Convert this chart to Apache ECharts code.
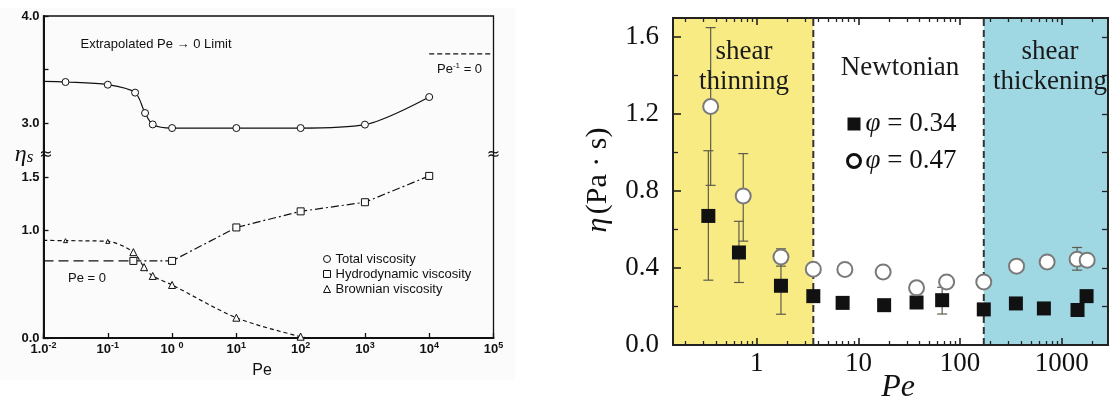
<!DOCTYPE html>
<html>
<head>
<meta charset="utf-8">
<script src="https://cdn.jsdelivr.net/npm/echarts@6.0.0/dist/echarts.min.js"></script>
<style>
html,body{margin:0;padding:0;background:#ffffff;}
#chart{width:1111px;height:405px;}
</style>
</head>
<body>
<div id="chart"></div>
<script>
// ===== Left panel: eta_s vs Pe =====
const totalPe  = [0.01, 0.022, 0.1, 0.266, 0.38, 0.5, 1, 10, 100, 1000, 10000];
const totalEta = [3.39, 3.385, 3.36, 3.286, 3.096, 2.99, 2.956, 2.956, 2.956, 2.988, 3.245];
const hydroPe  = [0.25, 1, 10, 100, 1000, 10000];
const hydroEta = [0.718, 0.718, 1.03, 1.18, 1.265, 1.51];
const brownPe  = [0.01, 0.022, 0.1, 0.25, 0.367, 0.5, 1, 10, 100, 160];
const brownEta = [0.91, 0.907, 0.9, 0.8, 0.66, 0.578, 0.494, 0.189, 0.012, 0];
const pe0Pe    = [0.01, 0.25];
const pe0Eta   = [0.718, 0.718];
const peInfPe  = [10000, 100000];
const peInfEta = [3.647, 3.647];
const leftYTickLabels = [0, 1.0, 1.5, 3.0, 4.0];
const leftYTickMarks  = [0, 1.0, 1.5, 3.0, 3.5, 4.0];
const leftXRange = [0.01, 100000];
const leftYRange = [0, 4.0];

// ===== Right panel: eta (Pa s) vs Pe =====
const pe034  = [0.334, 0.668, 1.73, 3.6, 6.99, 17.9, 37.3, 66.6, 171, 354, 667, 1429, 1754];
const eta034 = [0.671, 0.481, 0.308, 0.254, 0.219, 0.207, 0.221, 0.233, 0.185, 0.216, 0.190, 0.182, 0.254];
const lo034  = [0.337, 0.325, 0.16, null, null, null, null, 0.161, null, null, null, null, null];
const hi034  = [1.01, 0.643, 0.46, null, null, null, null, 0.30, null, null, null, null, null];
const pe047  = [0.352, 0.736, 1.73, 3.6, 7.36, 17.5, 37.3, 73.7, 171, 359, 718, 1416, 1778];
const eta047 = [1.24, 0.775, 0.458, 0.394, 0.393, 0.38, 0.297, 0.328, 0.328, 0.41, 0.432, 0.446, 0.441];
const lo047  = [0.83, 0.54, 0.41, null, null, null, null, null, null, null, null, 0.389, null];
const hi047  = [1.65, 0.995, 0.50, null, null, null, null, null, null, null, null, 0.507, null];
const regionBounds = [3.6, 171];
const rightXRange = [0.15, 2850];
const rightYRange = [0, 1.7];
const rightYLabels = [0, 0.4, 0.8, 1.2, 1.6];
const rightYMinor  = [0.2, 0.6, 1.0, 1.4];
const rightYAll    = [0.2, 0.4, 0.6, 0.8, 1.0, 1.2, 1.4, 1.6];
const rightXLabels = [1, 10, 100, 1000];
const rightXMinor  = [0.2, 0.3, 0.4, 0.5, 0.6, 0.7, 0.8, 0.9, 2, 3, 4, 5, 6, 7, 8, 9,
                      20, 30, 40, 50, 60, 70, 80, 90, 200, 300, 400, 500, 600, 700, 800, 900, 2000];

// broken axis mapping (1.5 .. 3.0 gap compressed)
const brk = v => (v > 2.25 ? v - 1 : v);
const unbrk = t => (t > 1.75 ? t + 1 : t);
const zip = (xs, ys) => xs.map((x, i) => [x, brk(ys[i])]);
const zipR = (xs, ys) => xs.map((x, i) => [x, ys[i]]);
const errData = (xs, lo, hi) => xs.map((x, i) => [x, lo[i], hi[i]]).filter(d => d[1] != null);

const SANS = 'Liberation Sans';
const SERIF = 'Liberation Serif';
const L10 = Math.log10;

function tickAxis(grid, pos, min, max, values, len, color, width) {
  return {
    type: 'value', gridIndex: grid, position: pos, min: min, max: max, z: 20,
    axisLine: { show: false, onZero: false },
    axisLabel: { show: false },
    splitLine: { show: false },
    axisTick: { show: true, inside: true, length: len, customValues: values,
      lineStyle: { color: color, width: width } }
  };
}

const chart = echarts.init(document.getElementById('chart'));

function errRender(params, api) {
  const x = api.value(0), lo = api.value(1), hi = api.value(2);
  const a = api.coord([x, hi]), b = api.coord([x, lo]);
  const w = 5;
  const st = { stroke: '#5c5c4c', lineWidth: 1.2 };
  return { type: 'group', children: [
    { type: 'line', shape: { x1: a[0], y1: a[1], x2: b[0], y2: b[1] }, style: st },
    { type: 'line', shape: { x1: a[0] - w, y1: a[1], x2: a[0] + w, y2: a[1] }, style: st },
    { type: 'line', shape: { x1: b[0] - w, y1: b[1], x2: b[0] + w, y2: b[1] }, style: st }
  ]};
}

const option = {
  animation: false,
  textStyle: { fontFamily: SANS },
  grid: [
    { left: 43.5, right: 617.5, top: 16, bottom: 67, show: true, borderColor: '#111', borderWidth: 1.3, outerBoundsMode: 'none' },
    { left: 673, right: 3, top: 18, bottom: 60, show: true, borderColor: '#222', borderWidth: 2, outerBoundsMode: 'none', z: 20 }
  ],
  xAxis: [
    { type: 'log', gridIndex: 0, position: 'bottom', min: leftXRange[0], max: leftXRange[1],
      axisLine: { onZero: false, lineStyle: { color: '#111', width: 2 } },
      axisTick: { inside: true, length: 5, lineStyle: { color: '#111', width: 1.3 } },
      splitLine: { show: false },
      axisLabel: { margin: 3, color: '#111',
        formatter: function (v) {
          const e = Math.round(L10(v));
          if (e === -2) return '{b|1.0}{s|-2}';
          if (e === 0) return '{b|10 }{s|0}';
          return '{b|10}{s|' + e + '}';
        },
        rich: {
          b: { fontSize: 13, fontWeight: 'bold', fontFamily: SANS, color: '#111' },
          s: { fontSize: 9, fontWeight: 'bold', fontFamily: SANS, color: '#111', padding: [0, 0, 7, 0] }
        }
      }
    },
    { type: 'log', gridIndex: 1, position: 'bottom', min: rightXRange[0], max: rightXRange[1], z: 20,
      axisLine: { onZero: false, lineStyle: { color: '#222', width: 2 } },
      axisTick: { show: false },
      splitLine: { show: false },
      axisLabel: { margin: 5, color: '#111', fontFamily: SERIF, fontSize: 27,
        formatter: function (v) {
          const e = L10(v);
          return Math.abs(e - Math.round(e)) < 1e-6 ? String(Math.round(v)) : '';
        }
      }
    },
    tickAxis(1, 'bottom', L10(rightXRange[0]), L10(rightXRange[1]), rightXMinor.map(L10), 4, '#222', 1.3),
    tickAxis(1, 'bottom', L10(rightXRange[0]), L10(rightXRange[1]), rightXLabels.map(L10), 7, '#222', 1.6),
    tickAxis(1, 'top', L10(rightXRange[0]), L10(rightXRange[1]), rightXMinor.map(L10), 4, '#222', 1.3),
    tickAxis(1, 'top', L10(rightXRange[0]), L10(rightXRange[1]), rightXLabels.map(L10), 7, '#222', 1.6)
  ],
  yAxis: [
    { type: 'value', gridIndex: 0, position: 'left', min: brk(leftYRange[0]), max: brk(leftYRange[1]),
      axisLine: { onZero: false, lineStyle: { color: '#111', width: 2 } },
      axisTick: { inside: true, length: 5, customValues: leftYTickMarks.map(brk), lineStyle: { color: '#111', width: 1.3 } },
      splitLine: { show: false },
      axisLabel: { margin: 4, color: '#111', fontSize: 13, fontWeight: 'bold', fontFamily: SANS,
        customValues: leftYTickLabels.map(brk),
        formatter: v => unbrk(v).toFixed(1) }
    },
    { type: 'value', gridIndex: 1, position: 'left', min: rightYRange[0], max: rightYRange[1], z: 20,
      axisLine: { onZero: false, lineStyle: { color: '#222', width: 2 } },
      axisTick: { inside: true, length: 8, customValues: rightYLabels, lineStyle: { color: '#222', width: 1.6 } },
      splitLine: { show: false },
      axisLabel: { margin: 14, color: '#111', fontSize: 27, fontFamily: SERIF,
        customValues: rightYLabels, formatter: v => v.toFixed(1) }
    },
    tickAxis(1, 'left', rightYRange[0], rightYRange[1], rightYMinor, 5, '#222', 1.3),
    tickAxis(1, 'right', rightYRange[0], rightYRange[1], rightYAll, 6, '#222', 1.3)
  ],
  legend: [
    { orient: 'vertical', left: 318, top: 247, itemWidth: 7, itemHeight: 7, itemGap: 1,
      textStyle: { fontFamily: SANS, fontSize: 13, color: '#111', lineHeight: 14 },
      selectedMode: false,
      data: [
        { name: 'Total viscosity', icon: 'circle', itemStyle: { color: '#fbfbfb', borderColor: '#111', borderWidth: 1 } },
        { name: 'Hydrodynamic viscosity', icon: 'rect', itemStyle: { color: '#fbfbfb', borderColor: '#111', borderWidth: 1 } },
        { name: 'Brownian viscosity', icon: 'triangle', itemStyle: { color: '#fbfbfb', borderColor: '#111', borderWidth: 1 } }
      ]
    },
    { orient: 'vertical', left: 841, top: 104, itemWidth: 13, itemHeight: 13, itemGap: 7,
      selectedMode: false,
      formatter: name => '{p|φ}{t| = ' + name.split('= ')[1] + '}',
      textStyle: { fontFamily: SERIF, fontSize: 27, color: '#111', lineHeight: 30,
        rich: {
          p: { fontFamily: SERIF, fontStyle: 'italic', fontSize: 27, color: '#111', lineHeight: 30 },
          t: { fontFamily: SERIF, fontSize: 27, color: '#111', lineHeight: 30 }
        }
      },
      data: [
        { name: 'φ = 0.34', icon: 'rect', itemStyle: { color: '#111', borderWidth: 0 } },
        { name: 'φ = 0.47', icon: 'circle', itemStyle: { color: '#fff', borderColor: '#111', borderWidth: 3 } }
      ]
    }
  ],
  series: [
    // ---- left panel ----
    { name: 'Total viscosity', type: 'line', xAxisIndex: 0, yAxisIndex: 0, smooth: 0.3,
      data: zip(totalPe, totalEta), symbol: 'circle',
      symbolSize: v => (v[0] <= leftXRange[0] ? 0 : 7),
      itemStyle: { color: '#fbfbfb', borderColor: '#111', borderWidth: 1 },
      lineStyle: { color: '#111', width: 1.2 }, z: 3 },
    { name: 'Hydrodynamic viscosity', type: 'line', xAxisIndex: 0, yAxisIndex: 0,
      data: zip(hydroPe, hydroEta), symbol: 'rect', symbolSize: 7,
      itemStyle: { color: '#fbfbfb', borderColor: '#111', borderWidth: 1 },
      lineStyle: { color: '#111', width: 1.2, type: [8, 3, 2, 3] }, z: 3 },
    { name: 'Brownian viscosity', type: 'line', xAxisIndex: 0, yAxisIndex: 0, smooth: 0.3,
      data: zip(brownPe, brownEta), symbol: 'triangle',
      symbolSize: v => (v[0] <= leftXRange[0] || v[0] > 150 ? 0 : (v[0] < 0.2 ? 4 : 7)),
      itemStyle: { color: '#fbfbfb', borderColor: '#111', borderWidth: 1 },
      lineStyle: { color: '#111', width: 1.2, type: [4, 3] }, z: 3 },
    { name: 'Pe = 0 limit', type: 'line', xAxisIndex: 0, yAxisIndex: 0,
      data: zip(pe0Pe, pe0Eta), symbol: 'none',
      lineStyle: { color: '#111', width: 1.2, type: [10, 5] }, z: 2 },
    { name: 'Pe^-1 = 0 limit', type: 'line', xAxisIndex: 0, yAxisIndex: 0,
      data: zip(peInfPe, peInfEta), symbol: 'none',
      lineStyle: { color: '#111', width: 1.2, type: [5, 3] }, z: 2 },
    // ---- right panel ----
    { name: 'bound1', type: 'line', xAxisIndex: 1, yAxisIndex: 1, symbol: 'none',
      data: [[regionBounds[0], rightYRange[0]], [regionBounds[0], rightYRange[1]]],
      lineStyle: { color: '#333', width: 2, type: [7, 4] }, z: 2 },
    { name: 'bound2', type: 'line', xAxisIndex: 1, yAxisIndex: 1, symbol: 'none',
      data: [[regionBounds[1], rightYRange[0]], [regionBounds[1], rightYRange[1]]],
      lineStyle: { color: '#333', width: 2, type: [7, 4] }, z: 2 },
    { name: 'err034', type: 'custom', xAxisIndex: 1, yAxisIndex: 1, renderItem: errRender,
      encode: { x: 0, y: [1, 2] }, data: errData(pe034, lo034, hi034), z: 3 },
    { name: 'err047', type: 'custom', xAxisIndex: 1, yAxisIndex: 1, renderItem: errRender,
      encode: { x: 0, y: [1, 2] }, data: errData(pe047, lo047, hi047), z: 3 },
    { name: 'φ = 0.34', type: 'scatter', xAxisIndex: 1, yAxisIndex: 1,
      data: zipR(pe034, eta034), symbol: 'rect', symbolSize: 14,
      itemStyle: { color: '#111', opacity: 1 }, z: 4,
      markArea: { silent: true, z: 1,
        data: [
          [{ xAxis: rightXRange[0], itemStyle: { color: '#f9eb84' } }, { xAxis: regionBounds[0] }],
          [{ xAxis: regionBounds[1], itemStyle: { color: '#9fd7e3' } }, { xAxis: rightXRange[1] }]
        ]
      }
    },
    { name: 'φ = 0.47', type: 'scatter', xAxisIndex: 1, yAxisIndex: 1,
      data: zipR(pe047, eta047), symbol: 'circle', symbolSize: 15,
      itemStyle: { color: '#ffffff', borderColor: '#7a7a7a', borderWidth: 2, opacity: 1 }, z: 5 }
  ],
  graphic: [
    { type: 'rect', z: -10, silent: true, shape: { x: 0, y: 8, width: 515, height: 372 }, style: { fill: '#fbfbfb' } },
    { type: 'text', z: 100, x: 24, y: 155, style: { text: '{e|η}{s|s}', align: 'center', verticalAlign: 'middle',
      rich: { e: { fontFamily: SERIF, fontStyle: 'italic', fontSize: 24, fill: '#111' },
              s: { fontFamily: SERIF, fontStyle: 'italic', fontSize: 17, fill: '#111', padding: [6, 0, 0, 0] } } } },
    { type: 'text', x: 46, y: 155, z: 100, style: { text: '≈', fontSize: 16, fontFamily: 'DejaVu Sans', fill: '#111', align: 'center', verticalAlign: 'middle' } },
    { type: 'text', x: 493.5, y: 155, z: 100, style: { text: '≈', fontSize: 16, fontFamily: 'DejaVu Sans', fill: '#111', align: 'center', verticalAlign: 'middle' } },
    { type: 'text', z: 100, x: 156, y: 44, style: { text: 'Extrapolated Pe → 0 Limit', fontSize: 13, fontFamily: SANS, fill: '#111', align: 'center', verticalAlign: 'middle' } },
    { type: 'text', z: 100, x: 437, y: 69, style: { text: '{a|Pe}{s|-1}{a| = 0}', align: 'left', verticalAlign: 'middle',
      rich: { a: { fontSize: 13, fontFamily: SANS, fill: '#111' }, s: { fontSize: 8, fontFamily: SANS, fill: '#111', padding: [0, 0, 7, 0] } } } },
    { type: 'text', z: 100, x: 68, y: 278, style: { text: 'Pe = 0', fontSize: 13, fontFamily: SANS, fill: '#111', align: 'left', verticalAlign: 'middle' } },
    { type: 'text', z: 100, x: 262, y: 371, style: { text: 'Pe', fontSize: 16, fontFamily: SANS, fill: '#111', align: 'center', verticalAlign: 'middle' } },
    { type: 'text', z: 100, x: 744, y: 67, style: { text: 'shear\nthinning', fontSize: 27, lineHeight: 30, fontFamily: SERIF, fill: '#1a1a1a', align: 'center', verticalAlign: 'middle' } },
    { type: 'text', z: 100, x: 900, y: 68, style: { text: 'Newtonian', fontSize: 27, fontFamily: SERIF, fill: '#1a1a1a', align: 'center', verticalAlign: 'middle' } },
    { type: 'text', z: 100, x: 1050, y: 67, style: { text: 'shear\nthickening', fontSize: 27, lineHeight: 30, fontFamily: SERIF, fill: '#1a1a1a', align: 'center', verticalAlign: 'middle' } },
    { type: 'text', z: 100, x: 598, y: 180, rotation: Math.PI / 2, style: { text: '{e|η} {n|(Pa · s)}', align: 'center', verticalAlign: 'middle',
      rich: { e: { fontFamily: SERIF, fontStyle: 'italic', fontSize: 30, fill: '#111' }, n: { fontFamily: SERIF, fontSize: 30, fill: '#111' } } } },
    { type: 'text', z: 100, x: 898, y: 388, style: { text: 'Pe', fontFamily: SERIF, fontStyle: 'italic', fontSize: 32, fill: '#111', align: 'center', verticalAlign: 'middle' } }
  ]
};
chart.setOption(option);
</script>
</body>
</html>
